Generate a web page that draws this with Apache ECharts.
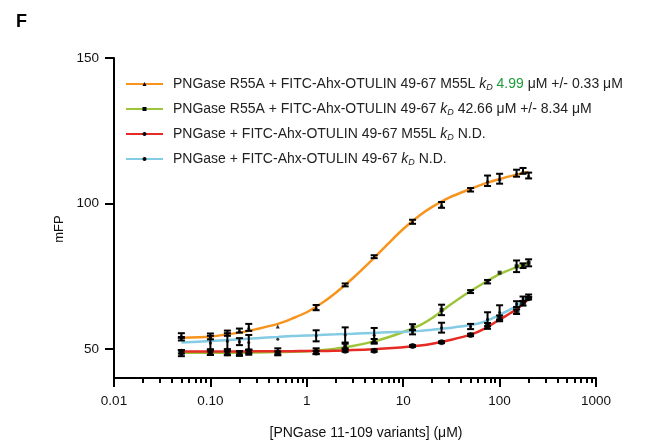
<!DOCTYPE html>
<html>
<head>
<meta charset="utf-8">
<script src="https://cdn.jsdelivr.net/npm/echarts@6/dist/echarts.min.js"></script>
<style>
html,body{margin:0;padding:0;background:#fff;}
#chart{width:655px;height:444px;}
</style>
</head>
<body>
<div id="chart"></div>
<script>
// ---------------- data ----------------
const concentrations = [0.05, 0.1, 0.15, 0.2, 0.25, 0.5, 1.25, 2.5, 5, 12.5, 25, 50, 75, 100, 150, 175, 200];

const orangeMean = [54.6, 54.3, 55.4, 56.3, 57.4, 57.7, 64.2, 72.0, 81.7, 93.7, 99.5, 104.7, 107.8, 108.5, 110.4, 111.2, 109.6];
const orangeErr  = [0.8, 1.0, 0.9, 0.7, 1.2, 0, 0.9, 0.5, 0.5, 0.7, 1.0, 0.6, 1.8, 1.7, 1.2, 1.0, 1.0];

const greenMean = [48.5, 48.9, 48.9, 48.4, 48.8, 49.0, 49.2, 51.0, 52.6, 57.5, 63.4, 69.7, 73.1, 76.2, 78.4, 78.6, 79.6];
const greenErr  = [1.0, 1.0, 1.0, 0.8, 0.8, 1.2, 1.0, 0.8, 0.8, 1.0, 1.8, 0.5, 0.6, 0, 2.0, 0.8, 1.2];

const redMean = [49.0, 48.7, 48.5, 48.6, 49.2, 48.6, 48.8, 49.4, 49.4, 51.0, 52.3, 54.8, 57.9, 60.5, 62.8, 65.7, 67.4];
const redErr  = [0.6, 0.8, 0.7, 0.6, 0.6, 0.5, 0.5, 0.4, 0.4, 0.3, 0.3, 0.4, 1.0, 1.0, 0.8, 0.8, 0.4];

const cyanMean = [53.5, 52.0, 52.6, 52.5, 52.2, 53.3, 54.5, 54.8, 54.7, 55.7, 57.3, 57.7, 60.2, 62.5, 65.4, 67.2, 68.2];
const cyanErr  = [0.6, 2.5, 2.8, 1.2, 2.6, 0, 1.9, 2.6, 2.5, 0.7, 1.7, 0.9, 2.4, 2.5, 1.0, 0.8, 0.5];

// fitted curves at these concentrations
const fitX      = [0.05, 0.1, 0.2, 0.3, 0.5, 0.7, 1, 1.5, 2, 3, 5, 7, 10, 15, 20, 30, 50, 70, 100, 150, 200];
const orangeFit = [53.8, 54.3, 55.6, 56.8, 58.6, 60.4, 62.6, 66.2, 69.3, 74.3, 81.3, 86.2, 91.2, 96.0, 98.8, 102.0, 105.0, 106.8, 108.4, 109.9, 110.8];
const greenFit  = [48.7, 48.7, 48.7, 48.8, 48.9, 49.0, 49.2, 49.6, 50.1, 51.0, 52.6, 54.0, 55.8, 58.2, 60.6, 64.9, 69.9, 72.8, 75.7, 78.1, 79.6];
const redFit    = [49.1, 49.1, 49.1, 49.2, 49.2, 49.2, 49.3, 49.3, 49.4, 49.6, 49.9, 50.2, 50.6, 51.2, 51.8, 53.0, 54.9, 57.0, 60.1, 63.6, 67.2];
const cyanFit   = [52.2, 52.7, 53.3, 53.7, 54.1, 54.4, 54.6, 54.9, 55.0, 55.2, 55.5, 55.7, 55.9, 56.2, 56.6, 57.2, 58.2, 59.4, 61.7, 64.8, 68.0];

const seriesNames = [
  'PNGase R55A + FITC-Ahx-OTULIN 49-67 M55L',
  'PNGase R55A + FITC-Ahx-OTULIN 49-67',
  'PNGase + FITC-Ahx-OTULIN 49-67 M55L',
  'PNGase + FITC-Ahx-OTULIN 49-67'
];
const kdValues = ['4.99', '42.66', 'N.D.', 'N.D.'];
const kdErrors = ['0.33', '8.34', '', ''];

const xTickLabels = ['0.01', '0.10', '1', '10', '100', '1000'];
const yTickValues = [50, 100, 150];

// ---------------- chart ----------------
const FONT = '"Liberation Sans", Arial, Helvetica, sans-serif';
const colors = ['#f7941d', '#9dc53b', '#e52b23', '#84cbe4'];
const symbols = ['triangle', 'rect', 'circle', 'circle'];
const symbolSizes = [4, 4, 6, 3];

const means = [orangeMean, greenMean, redMean, cyanMean];
const errs = [orangeErr, greenErr, redErr, cyanErr];
const fits = [orangeFit, greenFit, redFit, cyanFit];

// minor tick positions on a log10 helper axis
const minorLog = [];
for (let d = -2; d < 3; d++) {
  for (let m = 2; m <= 9; m++) minorLog.push(Math.log10(m * Math.pow(10, d)));
}

const series = [];
for (let s = 0; s < 4; s++) {
  series.push({
    name: seriesNames[s],
    type: 'line',
    xAxisIndex: 0,
    data: fitX.map((x, i) => [x, fits[s][i]]),
    smooth: 0.3,
    showSymbol: false,
    symbol: symbols[s],
    lineStyle: { color: colors[s], width: 2.5 },
    itemStyle: { color: colors[s] },
    z: 1,
    silent: true
  });
}
for (let s = 0; s < 4; s++) {
  series.push({
    type: 'custom',
    xAxisIndex: 0,
    data: concentrations.map((x, i) => [x, means[s][i], errs[s][i]]),
    encode: { x: 0, y: 1 },
    renderItem: function (params, api) {
      const x = api.value(0), m = api.value(1), e = api.value(2);
      if (!(e > 0)) return null;
      const top = api.coord([x, m + e]);
      const bot = api.coord([x, m - e]);
      const hw = 3.5;
      const st = { stroke: '#000', lineWidth: 2 };
      return {
        type: 'group',
        children: [
          { type: 'line', shape: { x1: top[0], y1: top[1], x2: bot[0], y2: bot[1] }, style: st },
          { type: 'line', shape: { x1: top[0] - hw, y1: top[1], x2: top[0] + hw, y2: top[1] }, style: st },
          { type: 'line', shape: { x1: bot[0] - hw, y1: bot[1], x2: bot[0] + hw, y2: bot[1] }, style: st }
        ]
      };
    },
    z: 2,
    silent: true
  });
}
for (let s = 0; s < 4; s++) {
  series.push({
    type: 'scatter',
    xAxisIndex: 0,
    data: concentrations.map((x, i) => [x, means[s][i]]),
    symbol: symbols[s],
    symbolSize: symbolSizes[s],
    itemStyle: { color: '#000' },
    z: 3,
    silent: true
  });
}

const richLegend = {};
seriesNames.forEach((n, i) => {
  let str = '{n|' + n + ' }{k|k}{d|D}{n| }';
  if (i === 0) str += '{g|' + kdValues[i] + '}';
  else str += '{n|' + kdValues[i] + '}';
  if (kdErrors[i]) str += '{n| \u03bcM +/- ' + kdErrors[i] + ' \u03bcM}';
  richLegend[n] = str;
});

const option = {
  animation: false,
  backgroundColor: '#fff',
  title: {
    text: 'F', left: 11, top: 8,
    textStyle: { fontFamily: FONT, fontSize: 18, fontWeight: 'bold', color: '#000' }
  },
  grid: { left: 114, right: 59, top: 58, bottom: 66, containLabel: false, outerBoundsMode: 'none' },
  legend: {
    orient: 'vertical',
    left: 120, top: 72,
    itemWidth: 37, itemHeight: 5, itemGap: 10,
    selectedMode: false,
    data: seriesNames.map((n, i) => ({ name: n, itemStyle: { color: '#000', borderWidth: 0 }, lineStyle: { color: colors[i], width: 2 } })),
    formatter: n => richLegend[n],
    textStyle: {
      fontFamily: FONT, fontSize: 14, color: '#222', padding: [0, 0, 0, 5],
      rich: {
        n: { fontFamily: FONT, fontSize: 14, color: '#222', lineHeight: 16 },
        g: { fontFamily: FONT, fontSize: 14, color: '#1e9b3c', lineHeight: 16 },
        k: { fontFamily: FONT, fontSize: 14, color: '#222', fontStyle: 'italic', lineHeight: 16 },
        d: { fontFamily: FONT, fontSize: 9, color: '#222', fontStyle: 'italic', verticalAlign: 'bottom' }
      }
    }
  },
  xAxis: [
    {
      type: 'log', logBase: 10, min: 0.01, max: 1000,
      position: 'bottom',
      axisLine: { onZero: false, lineStyle: { color: '#000', width: 2 } },
      axisTick: { show: true, length: 9, lineStyle: { color: '#000', width: 2 } },
      axisLabel: {
        fontFamily: FONT, fontSize: 13.5, color: '#111', margin: 16,
        formatter: v => xTickLabels[Math.round(Math.log10(v)) + 2]
      },
      splitLine: { show: false },
      minorTick: { show: false },
      name: '[PNGase 11-109 variants] (\u03bcM)',
      nameLocation: 'middle', nameGap: 48,
      nameTextStyle: { fontFamily: FONT, fontSize: 14, color: '#111', padding: [0, 0, 0, 22] }
    },
    {
      type: 'value', min: -2, max: 3,
      position: 'bottom',
      axisLine: { show: false, onZero: false },
      axisTick: { show: true, length: 5, customValues: minorLog, lineStyle: { color: '#000', width: 2 } },
      axisLabel: { show: false },
      splitLine: { show: false }
    }
  ],
  yAxis: {
    type: 'value', min: 40, max: 150,
    axisLine: { show: true, onZero: false, lineStyle: { color: '#000', width: 2 } },
    axisTick: { show: true, length: 9, customValues: yTickValues, lineStyle: { color: '#000', width: 2 } },
    axisLabel: { customValues: yTickValues, fontFamily: FONT, fontSize: 13.5, color: '#111', margin: 15 },
    splitLine: { show: false },
    name: 'mFP',
    nameLocation: 'middle', nameGap: 44,
    nameTextStyle: { fontFamily: FONT, fontSize: 13, color: '#111', padding: [0, 22, 0, 0] }
  },
  series: series
};

const chart = echarts.init(document.getElementById('chart'), null, { renderer: 'canvas' });
chart.setOption(option);
</script>
</body>
</html>
